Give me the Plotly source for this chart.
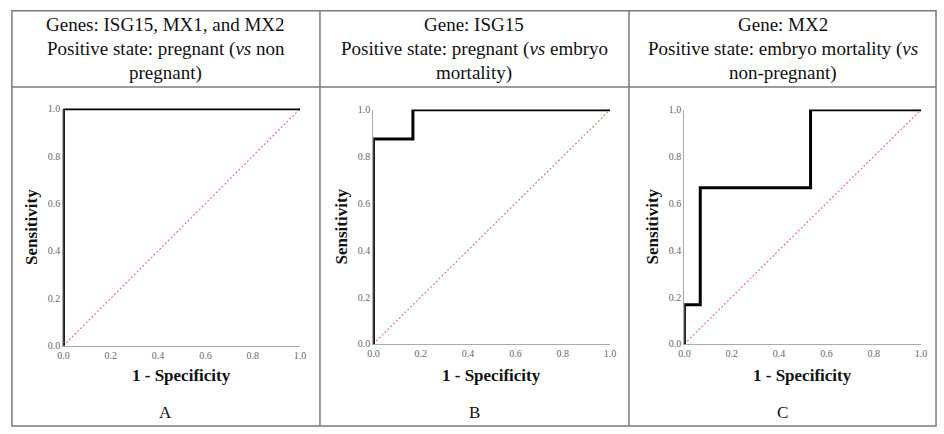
import plotly.graph_objects as go

# ROC curve data
fpr_a = [0.0, 0.0, 1.0]
tpr_a = [0.0, 1.0, 1.0]
fpr_b = [0.0, 0.0, 0.167, 0.167, 1.0]
tpr_b = [0.0, 0.875, 0.875, 1.0, 1.0]
fpr_c = [0.0, 0.0, 0.067, 0.067, 0.533, 0.533, 1.0]
tpr_c = [0.0, 0.167, 0.167, 0.667, 0.667, 1.0, 1.0]
ref_line = [0.0, 1.0]

header_lines = [
    ["Genes: ISG15, MX1, and MX2", "Positive state: pregnant (<i>vs</i> non", "pregnant)"],
    ["Gene: ISG15", "Positive state: pregnant (<i>vs</i> embryo", "mortality)"],
    ["Gene: MX2", "Positive state: embryo mortality (<i>vs</i>", "non-pregnant)"],
]
panel_labels = ["A", "B", "C"]
tick_vals = [0.0, 0.2, 0.4, 0.6, 0.8, 1.0]
tick_text = ["0.0", "0.2", "0.4", "0.6", "0.8", "1.0"]

W, H = 944, 434
SERIF = "Times New Roman, Liberation Serif, serif"

def px(x):
    return x / W

def py(y):
    return 1 - y / H

fig = go.Figure()

# plot areas in pixels: (x0, x1, ytop, ybottom)
areas = [(58, 298, 106, 349), (372, 612, 107, 347), (687, 927, 107, 347)]
cols = [(6, 318), (318, 631), (631, 942)]
data = [(fpr_a, tpr_a), (fpr_b, tpr_b), (fpr_c, tpr_c)]
line_y = [20, 45, 70]

for i, ((x0, x1, yt, yb), (fx, ty)) in enumerate(zip(areas, data)):
    n = "" if i == 0 else str(i + 1)
    fig.add_trace(go.Scatter(x=ref_line, y=ref_line, mode="lines",
                             line=dict(color="#e07070", width=1.1, dash="2px,2px"),
                             xaxis="x" + n, yaxis="y" + n, showlegend=False,
                             hoverinfo="skip", cliponaxis=False))
    fig.add_trace(go.Scatter(x=fx, y=ty, mode="lines",
                             line=dict(color="black", width=3),
                             xaxis="x" + n, yaxis="y" + n, showlegend=False,
                             cliponaxis=False))
    axcommon = dict(range=[-0.0005, 1.0005], showgrid=False, zeroline=False, showline=True,
                    linecolor="#aaaaaa", linewidth=1, ticks="",
                    tickvals=tick_vals, ticktext=tick_text,
                    tickfont=dict(family=SERIF, size=10, color="#666666"),
                    fixedrange=True)
    fig.update_layout(**{
        "xaxis" + n: dict(domain=[px(x0), px(x1)], anchor="y" + n, **axcommon),
        "yaxis" + n: dict(domain=[py(yb), py(yt)], anchor="x" + n, **axcommon),
    })
    cx = (cols[i][0] + cols[i][1]) / 2
    for txt, ly in zip(header_lines[i], line_y):
        fig.add_annotation(x=px(cx), y=py(ly), xref="paper", yref="paper",
                           xanchor="center", yanchor="middle",
                           text=txt, showarrow=False, align="center",
                           font=dict(family=SERIF, size=19, color="#111111"))
    fig.add_annotation(x=px((x0 + x1) / 2), y=py(379), xref="paper", yref="paper",
                       xanchor="center", yanchor="middle",
                       text="<b>1 - Specificity</b>", showarrow=False,
                       font=dict(family=SERIF, size=17, color="#111111"))
    fig.add_annotation(x=px(x0 - 32), y=py((yt + yb) / 2), xref="paper", yref="paper",
                       xanchor="center", yanchor="middle",
                       text="<b>Sensitivity</b>", showarrow=False, textangle=-90,
                       font=dict(family=SERIF, size=17, color="#111111"))
    fig.add_annotation(x=px(cx), y=py(417), xref="paper", yref="paper",
                       xanchor="center", yanchor="middle",
                       text=panel_labels[i], showarrow=False,
                       font=dict(family=SERIF, size=17, color="#111111"))

# table borders
border = dict(color="#7a7a7a", width=1.5)
shapes = [
    dict(type="rect", xref="paper", yref="paper", x0=px(6), x1=px(942), y0=py(431), y1=py(6), line=border),
    dict(type="line", xref="paper", yref="paper", x0=px(6), x1=px(942), y0=py(84), y1=py(84), line=border),
    dict(type="line", xref="paper", yref="paper", x0=px(318), x1=px(318), y0=py(6), y1=py(431), line=border),
    dict(type="line", xref="paper", yref="paper", x0=px(631), x1=px(631), y0=py(6), y1=py(431), line=border),
]

fig.update_layout(width=W, height=H, margin=dict(l=0, r=0, t=0, b=0),
                  paper_bgcolor="white", plot_bgcolor="white", shapes=shapes,
                  showlegend=False, font=dict(family=SERIF))

fig.write_html("out.html", config={"displayModeBar": False, "responsive": False},
               post_script="document.body.style.margin='0';document.body.style.overflow='hidden';")
